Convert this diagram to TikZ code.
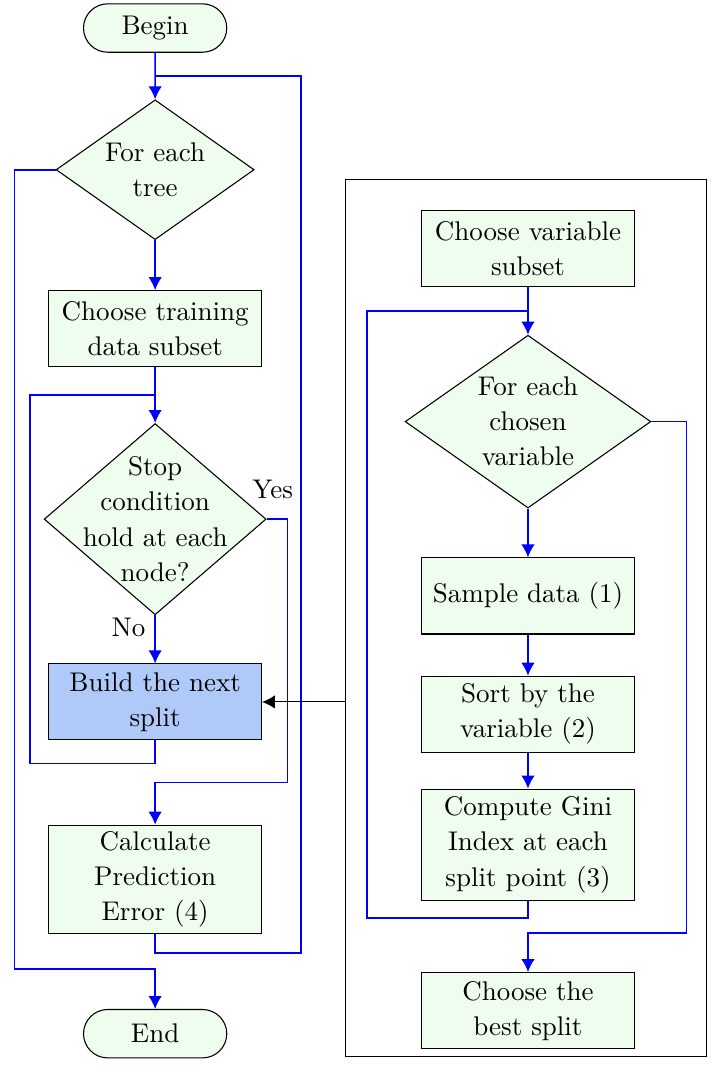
\documentclass[tikz,border=0pt]{standalone}
\usetikzlibrary{shapes.geometric,shapes.misc,positioning,calc,arrows.meta}
\definecolor{boxgreen}{RGB}{238,253,238}
\definecolor{buildblue}{RGB}{175,201,248}
\begin{document}
\begin{tikzpicture}[font=\fontsize{10}{13}\selectfont]
\tikzstyle{term}	= [draw, rounded rectangle, fill=boxgreen, minimum width=2.1cm, minimum height=0.63cm] % start / stop
\tikzstyle{decision}	= [draw, diamond, fill=boxgreen, align=center, inner sep=-8pt] % define decision
\tikzstyle{block}	= [draw, rectangle, fill=boxgreen, minimum width=2.77cm, minimum height=0.99cm, inner ysep=2pt, align=center] % define block
\tikzstyle{arrow}	= [draw=blue, semithick, -{Latex[length=4.8pt, width=5pt]}] % define standard arrow
\tikzstyle{line}	= [draw=blue, semithick] % loop back line
\tikzstyle{link}	= [draw=black, -{Latex[length=4.8pt, width=5pt]}]

\useasboundingbox (0,0) rectangle (9.362,-14.115);

% outer loop (trees)
\node(begin)[term] at (2.02,-0.365){Begin};
\node(tree)[decision, minimum width=2.58cm, minimum height=1.82cm, below of = begin, node distance = 1.845cm]{For each\\tree};
\node(data)[block, below of = tree, node distance = 2.07cm]{Choose training\\data subset};
\node(stop)[decision, minimum width=2.89cm, minimum height=2.49cm, below of = data, node distance = 2.48cm]{Stop\\condition\\hold at each\\node?};
\node(build)[block, fill=buildblue, below of = stop, node distance = 2.38cm]{Build the next\\split};
\node(calc)[block, minimum height=1.41cm, below of = build, node distance = 2.31cm]{Calculate\\Prediction\\Error (4)};
\node(end)[term, below of = calc, node distance = 2.01cm]{End};

% inner procedure (split)
\node(sub)[draw, rectangle, minimum width=4.69cm, minimum height=11.43cm] at (6.849,-8.047){};
\node(subset)[block] at (6.875,-3.24){Choose variable\\subset};
\node(var)[decision, minimum width=3.2cm, minimum height=2.25cm, below of = subset, node distance = 2.25cm]{For each\\chosen\\variable};
\node(sample)[block, below of = var, node distance = 2.27cm]{Sample data (1)};
\node(sort)[block, below of = sample, node distance = 1.54cm]{Sort by the\\variable (2)};
\node(gini)[block, minimum height=1.45cm, below of = sort, node distance = 1.70cm]{Compute Gini\\Index at each\\split point (3)};
\node(best)[block, below of = gini, node distance = 2.16cm]{Choose the\\best split};

\coordinate(j1) at ($(begin.south)!0.5!(tree.north)$);
\coordinate(j2) at ($(data.south)!0.5!(stop.north)$);
\coordinate(j3) at ($(subset.south)!0.5!(var.north)$);

% left column
\draw[arrow](begin) -- (tree);
\draw[arrow](tree) -- (data);
\draw[arrow](data) -- (stop);
\draw[arrow](stop) -- node[left, pos=0.25]{No} (build);
\draw[line](calc.south) -- ++(0,-0.25) -| ([xshift=1.9cm]j1) -- (j1);
\draw[line](build.south) -- ++(0,-0.3) -| ([xshift=-1.63cm]j2) -- (j2);
\draw[arrow](tree.west) -- ++(-0.535,0) |- ([yshift=0.52cm]end.north) -- (end.north);
\draw[arrow](stop.east) node[above, xshift=0.08cm, yshift=0.14cm]{Yes} -- ++(0.27,0) |- ([yshift=0.55cm]calc.north) -- (calc.north);

% right column
\draw[arrow](subset) -- (var);
\draw[arrow](var) -- (sample);
\draw[arrow](sample) -- (sort);
\draw[arrow](sort) -- (gini);
\draw[line](gini.south) -- ++(0,-0.22) -| ([xshift=-2.095cm]j3) -- (j3);
\draw[arrow](var.east) -- ++(0.455,0) |- ([yshift=0.51cm]best.north) -- (best.north);

\draw[link](sub.west |- build) -- (build.east);
\end{tikzpicture}
\end{document}
